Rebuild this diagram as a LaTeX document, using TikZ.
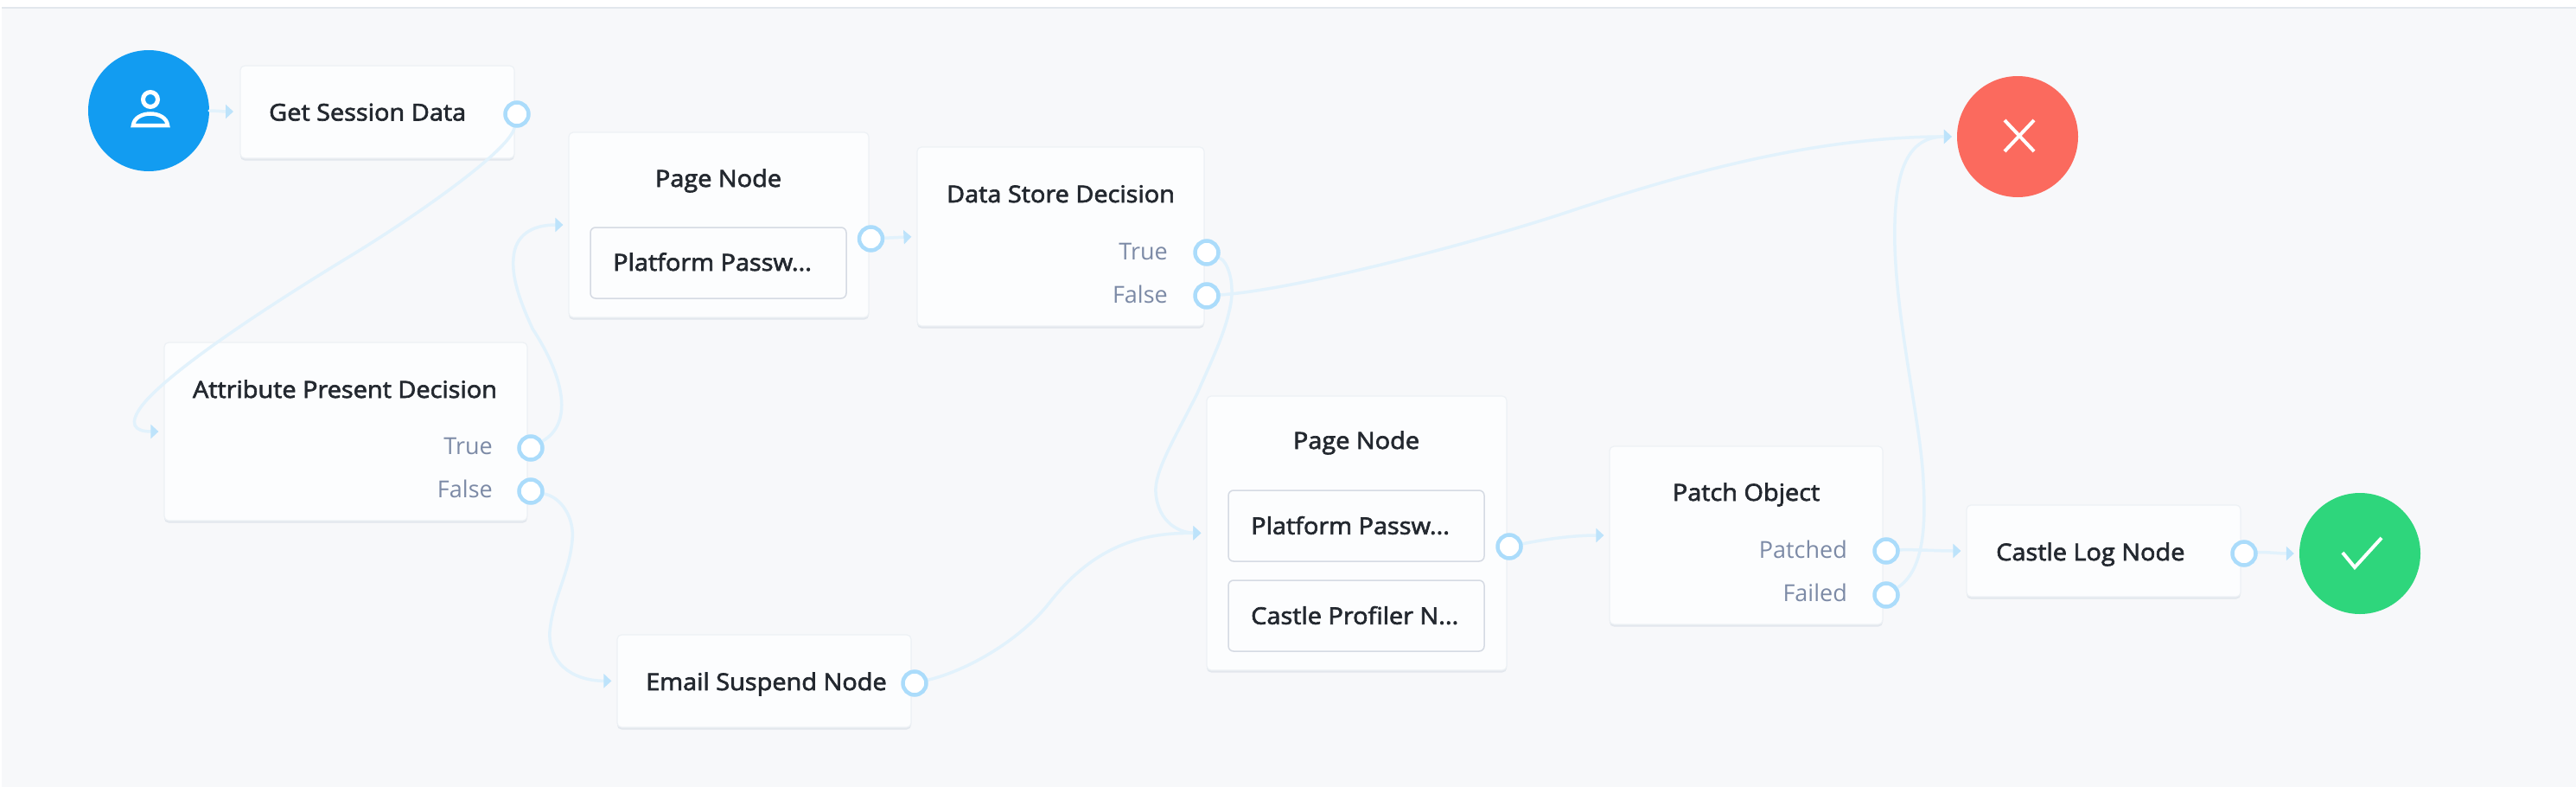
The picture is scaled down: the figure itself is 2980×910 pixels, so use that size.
\documentclass[tikz,border=0pt]{standalone}
\usepackage{fontspec}
\setmainfont{Open Sans}
\newfontfamily\titlefont[FakeBold=2.5,FakeStretch=1.07]{Open Sans}
\usetikzlibrary{arrows.meta,shadows,calc}
\definecolor{canvasbg}{HTML}{F7F8FA}
\definecolor{cardfill}{HTML}{FCFDFE}
\definecolor{cardedge}{HTML}{EDF1F5}
\definecolor{cardshade}{HTML}{E2E7ED}
\definecolor{innerline}{HTML}{D5DAE3}
\definecolor{wire}{HTML}{E2F2FC}
\definecolor{wiretip}{HTML}{BDE3FB}
\definecolor{portring}{HTML}{ABDCFB}
\definecolor{inktitle}{HTML}{23282F}
\definecolor{inklabel}{HTML}{7C8AA6}
\definecolor{startblue}{HTML}{129CF1}
\definecolor{failred}{HTML}{FB6A5E}
\definecolor{okgreen}{HTML}{2ED67C}
\pgfdeclarelayer{wires}
\pgfdeclarelayer{front}
\pgfsetlayers{main,wires,front}
\tikzset{
  x=1pt,y=-1pt,
  card/.style={rectangle,rounded corners=5pt,fill=cardfill,draw=cardedge,line width=1.2pt,inner sep=0pt,
    general shadow={shadow xshift=0pt,shadow yshift=-2.5pt,fill=cardshade}},
  innercard/.style={rectangle,rounded corners=6pt,fill=cardfill,draw=innerline,line width=1.5pt,inner sep=0pt},
  titletext/.style={font=\titlefont\fontsize{27}{32}\selectfont,text=inktitle,inner sep=0pt,anchor=base},
  lefttext/.style={titletext,anchor=base west},
  porttext/.style={font=\fontsize{27}{32}\selectfont,text=inklabel,inner sep=0pt,anchor=base east},
  portdot/.style={circle,fill=white,draw=portring,line width=4.5pt,minimum size=27pt,inner sep=0pt},
  disc/.style={circle,inner sep=0pt,minimum size=140pt},
  wirepath/.style={draw=wire,line width=3.5pt,line cap=round,
    -{Triangle[length=9pt,width=16pt,color=wiretip]},shorten >=6pt},
  glyph/.style={draw=white,line width=4.5pt},
}
\begin{document}
\begin{tikzpicture}
\useasboundingbox (0,0) rectangle (2980,910);
\fill[white] (0,0) rectangle (2980,910);
\fill[cardshade] (2,8) rectangle (2980,11);
\fill[canvasbg] (2,10) rectangle (2980,910);

% cards
\node[disc,fill=startblue] (start) at (172,128) {};
\node[card,minimum width=317pt,minimum height=107pt] (gsd) at (436.5,129.5) {};
\node[card,minimum width=420pt,minimum height=206pt] (attr) at (400,499) {};
\node[card,minimum width=347pt,minimum height=214pt] (page1) at (831.5,260) {};
\node[innercard,minimum width=296pt,minimum height=82pt] (pw1) at (831,304) {};
\node[card,minimum width=332pt,minimum height=207pt] (store) at (1227,273.5) {};
\node[card,minimum width=340pt,minimum height=107pt] (email) at (884,787.5) {};
\node[card,minimum width=347pt,minimum height=317pt] (page2) at (1569.5,616.5) {};
\node[innercard,minimum width=296pt,minimum height=82pt] (pw2) at (1569,608) {};
\node[innercard,minimum width=296pt,minimum height=82pt] (cp) at (1569,712) {};
\node[card,minimum width=316pt,minimum height=206pt] (patch) at (2020,619) {};
\node[card,minimum width=317pt,minimum height=106pt] (log) at (2433.5,637) {};
\node[disc,fill=failred] (fail) at (2334,158) {};
\node[disc,fill=okgreen] (ok) at (2730,640) {};

% texts
\node[lefttext] (tgsd) at (311,139.5) {Get Session Data};
\node[titletext] (tattr) at (399,460) {Attribute Present Decision};
\node[porttext] (ltrue) at (570,525.7) {True};
\node[porttext] (lfalse) at (570,575.7) {False};
\node[titletext] (tpage1) at (831,216) {Page Node};
\node[lefttext] (tpw1) at (709,313) {Platform Passw...};
\node[titletext] (tstore) at (1227,234) {Data Store Decision};
\node[porttext] (strue) at (1351,300) {True};
\node[porttext] (sfalse) at (1351,350) {False};
\node[lefttext] (temail) at (747,798) {Email Suspend Node};
\node[titletext] (tpage2) at (1569,519) {Page Node};
\node[lefttext] (tpw2) at (1447,617.7) {Platform Passw...};
\node[lefttext] (tcp) at (1447,721.7) {Castle Profiler N...};
\node[titletext] (tpatch) at (2020,579) {Patch Object};
\node[porttext] (lpatched) at (2137,645.7) {Patched};
\node[porttext] (lfailed) at (2137,695.7) {Failed};
\node[lefttext] (tlog) at (2309,648) {Castle Log Node};

% ports
\begin{pgfonlayer}{front}
\node[portdot] (pgsd) at (598,132) {};
\node[portdot] (ptrue) at (614,518) {};
\node[portdot] (pfalse) at (614,568) {};
\node[portdot] (ppage1) at (1007.5,276) {};
\node[portdot] (pstrue) at (1396,292) {};
\node[portdot] (psfalse) at (1396,342) {};
\node[portdot] (pemail) at (1058,790) {};
\node[portdot] (ppage2) at (1746,632) {};
\node[portdot] (ppatched) at (2182,637) {};
\node[portdot] (pfailed) at (2182,688) {};
\node[portdot] (plog) at (2596,640) {};
\end{pgfonlayer}

% icons
\draw[white,line width=5pt] (174,115) circle (8.5pt);
\draw[glyph,line join=miter] (154,145) .. controls (156,127) and (192,127) .. (194,145) -- cycle;
\draw[draw=white,line width=4pt] (2319,139) -- (2353,175) (2353,139) -- (2319,175);
\draw[draw=white,line width=4pt] (2710,639) -- (2724,656) -- (2755,622);

% connectors
\begin{pgfonlayer}{wires}
\draw[wirepath,shorten >=0pt] (start.east) .. controls (250,128) and (258,129) .. (270,129);
\draw[wirepath] (pgsd) .. controls (590,175) and (470,257) .. (402,298)
   .. controls (320,348) and (200,425) .. (165,468)
   .. controls (148,490) and (155,499) .. (attr.west);
\draw[wirepath] (ptrue) .. controls (662,490) and (655,440) .. (616,380)
   .. controls (600,345) and (592,320) .. (594,298)
   .. controls (596,272) and (615,260) .. (page1.west);
\draw[wirepath] (pfalse) .. controls (650,575) and (665,600) .. (662,625)
   .. controls (658,665) and (640,690) .. (636,730)
   .. controls (634,765) and (660,787) .. (email.west);
\draw[wirepath] (ppage1) -- (store.west);
\draw[wirepath] (pstrue) .. controls (1420,302) and (1428,325) .. (1424,350)
   .. controls (1418,385) and (1400,420) .. (1385,455)
   .. controls (1360,505) and (1335,545) .. (1337,570)
   .. controls (1340,605) and (1365,616) .. (page2.west);
\draw[wirepath] (psfalse) .. controls (1500,335) and (1710,280) .. (1820,243)
   .. controls (1950,200) and (2100,158) .. (fail.west);
\draw[wirepath] (pemail) .. controls (1120,775) and (1180,740) .. (1214,697)
   .. controls (1270,625) and (1330,616) .. (page2.west);
\draw[wirepath] (ppage2) .. controls (1780,625) and (1815,619) .. (patch.west);
\draw[wirepath] (ppatched) .. controls (2210,635) and (2240,637) .. (log.west);
\draw[wirepath] (pfailed) .. controls (2225,660) and (2228,610) .. (2225,556)
   .. controls (2222,490) and (2195,380) .. (2192,285)
   .. controls (2190,200) and (2205,158) .. (fail.west);
\draw[wirepath] (plog) .. controls (2620,638) and (2635,640) .. (ok.west);
\end{pgfonlayer}
\end{tikzpicture}
\end{document}
